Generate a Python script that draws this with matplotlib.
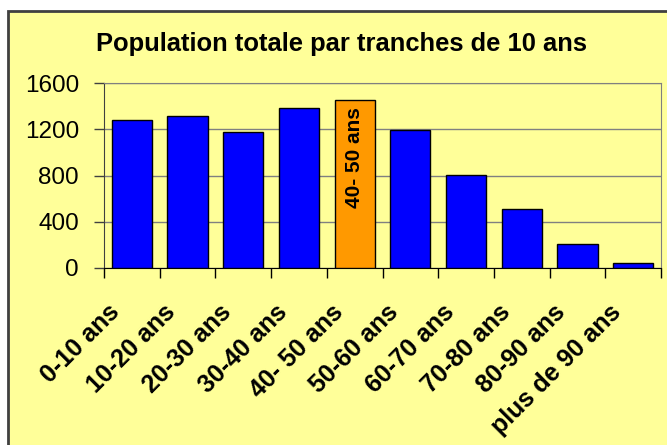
import numpy as np
import matplotlib.pyplot as plt
from matplotlib.patches import Rectangle
from matplotlib.transforms import ScaledTranslation

plt.rcParams['font.family'] = ['Liberation Sans', 'DejaVu Sans']

# Population by 10-year age bracket
categories = ['0-10 ans', '10-20 ans', '20-30 ans', '30-40 ans', '40- 50 ans',
              '50-60 ans', '60-70 ans', '70-80 ans', '80-90 ans', 'plus de 90 ans']
population = [1280, 1315, 1175, 1380, 1450, 1190, 805, 510, 205, 45]
highlight = '40- 50 ans'
yticks = [0, 400, 800, 1200, 1600]

yellow = '#FFFF99'
fig = plt.figure(figsize=(6.67, 4.45), dpi=100)
fig.patch.set_facecolor('white')

# chart frame (runs off the right and bottom edges)
frame = Rectangle((8 / 667, -0.1), 1.1, 1.1 - 11 / 445, transform=fig.transFigure,
                  facecolor=yellow, edgecolor='#404040', linewidth=2, zorder=-5)
fig.patches.append(frame)

ax = fig.add_axes([104 / 667, 1 - 268 / 445, (661 - 104) / 667, (268 - 83) / 445])
ax.set_facecolor(yellow)

x = np.arange(len(categories))
colors = ['#FF9900' if c == highlight else '#0000FF' for c in categories]
ax.bar(x, population, width=0.72, color=colors, edgecolor='black', linewidth=1, zorder=3)

hi = categories.index(highlight)
ax.annotate(highlight, xy=(hi, population[hi]), xytext=(0, -7), textcoords='offset pixels',
            rotation=90, ha='center', va='top', fontsize=15, fontweight='bold', zorder=4)

ax.set_xlim(-0.5, len(categories) - 0.5)
ax.set_ylim(0, 1600)
ax.set_yticks(yticks)
ax.yaxis.grid(True, color='#808080', linewidth=1, zorder=0)
ax.tick_params(axis='y', length=7, width=1, pad=11, labelsize=17.5, color='#404040')

ax.set_xticks(x)
ax.set_xticklabels(categories, rotation=45, ha='right', rotation_mode='anchor',
                   fontsize=18, fontweight='bold')
ax.set_xticks(np.arange(len(categories) + 1) - 0.5, minor=True)
ax.tick_params(axis='x', which='major', length=0, pad=23)
ax.tick_params(axis='x', which='minor', length=7, width=1, color='black')
shift = ScaledTranslation(-24 / 100, 0, fig.dpi_scale_trans)
for lab in ax.get_xticklabels():
    lab.set_transform(lab.get_transform() + shift)

for side in ['top', 'right']:
    ax.spines[side].set_color('#808080')
ax.spines['left'].set_color('#404040')
ax.spines['bottom'].set_color('black')

fig.text(341.5 / 667, 1 - 51 / 445, 'Population totale par tranches de 10 ans',
         ha='center', va='baseline', fontsize=18.4, fontweight='bold')

fig.savefig('out.png', dpi=100, facecolor=fig.get_facecolor())
